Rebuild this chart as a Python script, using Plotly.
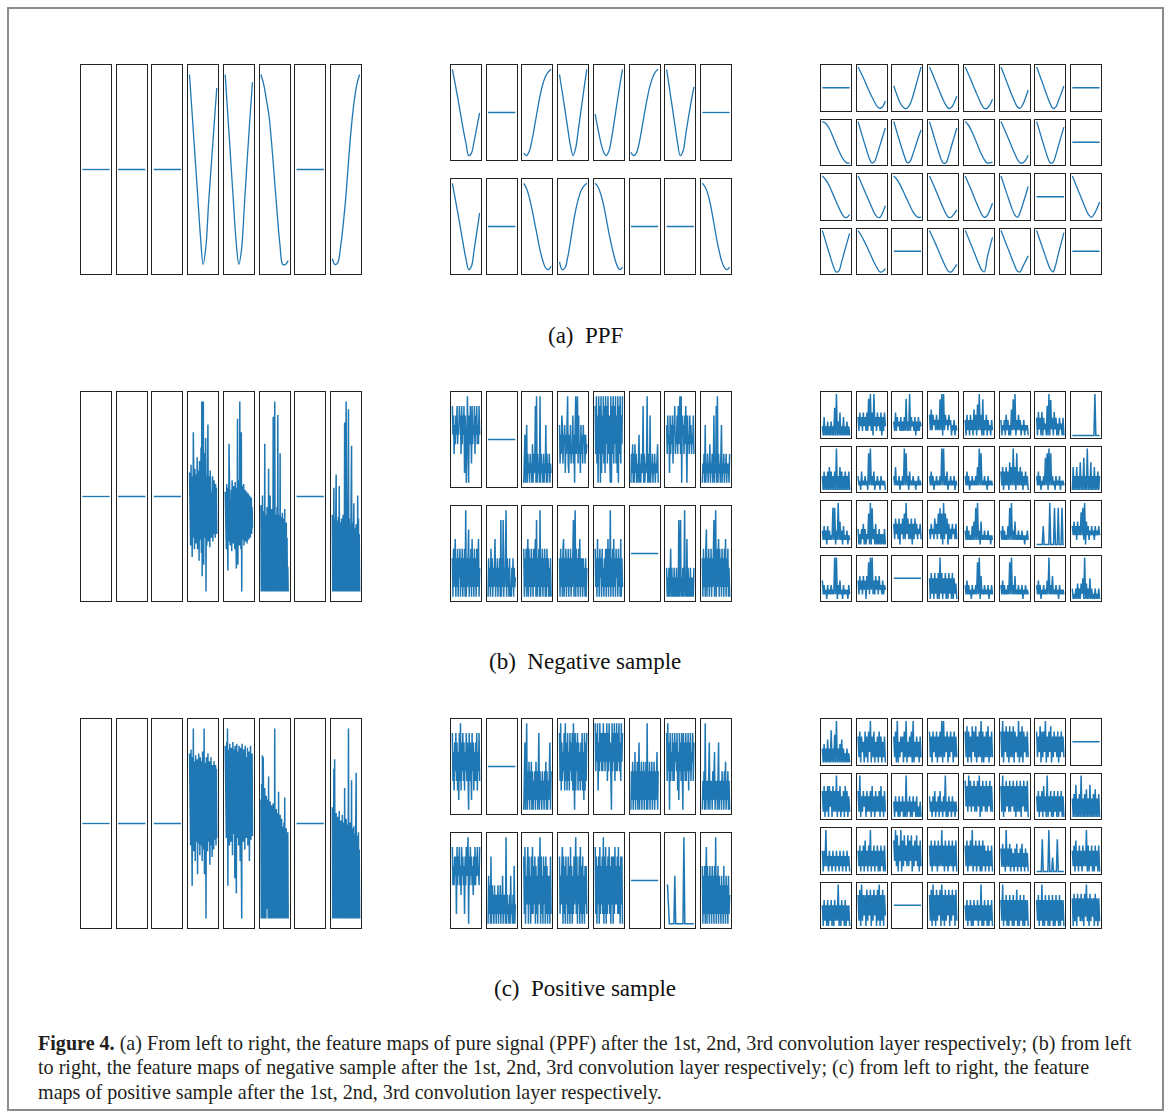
import plotly.graph_objects as go

# ---------------- data ----------------
FLAT = [50, 50]

# (a) PPF : smooth feature maps (11 samples each, 0..100 scale)
PPF_L1 = [FLAT, FLAT, FLAT,
          [100, 79, 58, 37, 16, 1, 10, 33, 53, 73, 93],
          [100, 78, 56, 34, 13, 1, 9, 31, 54, 76, 96],
          [100, 95, 87, 78, 63, 45, 27, 11, 1, 1, 3],
          FLAT,
          [4, 1, 2, 10, 22, 37, 56, 73, 86, 95, 100]]

PPF_L2 = [[100, 84, 67, 49, 31, 15, 1, 4, 18, 34, 50], FLAT,
          [3, 0, 5, 18, 35, 53, 70, 83, 92, 97, 100],
          [94, 74, 53, 32, 12, 0, 10, 32, 55, 78, 100],
          [48, 31, 16, 5, 0, 5, 20, 40, 61, 81, 100],
          [5, 1, 4, 15, 32, 50, 67, 81, 91, 97, 100],
          [100, 79, 58, 37, 16, 1, 6, 25, 45, 63, 80], FLAT,
          [100, 83, 66, 48, 30, 13, 1, 5, 24, 45, 66], FLAT,
          [100, 94, 84, 70, 54, 38, 22, 10, 2, 0, 4],
          [10, 1, 3, 15, 33, 53, 70, 83, 92, 97, 100],
          [100, 96, 88, 76, 60, 43, 28, 15, 5, 0, 3], FLAT, FLAT,
          [100, 96, 88, 75, 58, 40, 24, 11, 3, 0, 3]]

PPF_L3 = [FLAT,
          [100, 87, 73, 58, 43, 29, 16, 5, 0, 4, 18],
          [55, 36, 19, 7, 1, 2, 12, 30, 53, 77, 100],
          [100, 85, 69, 53, 37, 22, 9, 1, 3, 14, 30],
          [100, 86, 71, 55, 40, 25, 11, 2, 2, 10, 24],
          [100, 84, 67, 50, 33, 18, 5, 1, 10, 26, 45],
          [100, 83, 65, 47, 29, 13, 2, 5, 20, 37, 55],
          FLAT,
          [100, 97, 89, 77, 62, 46, 31, 17, 7, 1, 1],
          [100, 78, 56, 35, 15, 2, 5, 22, 43, 64, 85],
          [100, 78, 56, 35, 15, 1, 5, 22, 42, 62, 80],
          [100, 79, 57, 36, 16, 3, 3, 19, 41, 63, 85],
          [100, 93, 82, 68, 52, 36, 21, 9, 1, 1, 3],
          [100, 86, 71, 56, 40, 25, 11, 2, 2, 8, 20],
          [100, 79, 57, 36, 16, 2, 3, 20, 43, 65, 87],
          FLAT,
          [100, 93, 83, 70, 55, 40, 25, 12, 2, 1, 8],
          [100, 86, 71, 56, 41, 26, 12, 3, 2, 13, 30],
          [100, 93, 83, 70, 56, 42, 28, 15, 6, 1, 2],
          [100, 86, 71, 56, 40, 25, 11, 2, 3, 10, 20],
          [100, 85, 70, 54, 38, 23, 9, 1, 5, 18, 35],
          [100, 81, 61, 42, 23, 8, 1, 12, 32, 53, 75],
          FLAT,
          [100, 84, 68, 52, 36, 20, 7, 1, 9, 22, 38],
          [100, 79, 57, 36, 16, 2, 4, 24, 48, 71, 93],
          [100, 90, 78, 65, 51, 37, 23, 11, 2, 3, 10],
          FLAT,
          [100, 86, 72, 57, 42, 27, 13, 3, 2, 10, 20],
          [100, 85, 69, 53, 37, 21, 7, 2, 33, 60, 84],
          [100, 84, 67, 51, 34, 18, 4, 2, 14, 27, 40],
          [100, 81, 62, 43, 24, 8, 1, 18, 45, 70, 95],
          FLAT]

# (b) Negative sample : 1st layer on a 0..99 scale, deeper layers as digit levels 0..9
NEG_L1 = ["55", "55", "55",
          [62, 30, 57, 24, 66, 35, 52, 18, 60, 28, 83, 33, 58, 22, 64, 31, 55, 25, 61, 36,
           70, 22, 56, 29, 63, 16, 68, 27, 58, 33, 75, 20, 99, 8, 66, 30, 99, 14, 72, 28,
           62, 35, 80, 0, 60, 24, 57, 30, 87, 26, 60, 34, 55, 23, 63, 32, 57, 28, 52, 33,
           60, 26, 55, 35, 58, 30, 50, 28, 56, 33, 54, 30],
          [52, 28, 48, 22, 56, 30, 47, 11, 54, 26, 77, 30, 50, 24, 46, 29, 53, 21, 58, 30,
           49, 25, 55, 31, 51, 22, 57, 27, 50, 12, 54, 26, 90, 14, 58, 28, 52, 24, 99, 30,
           60, 22, 83, 0, 55, 27, 50, 30, 56, 24, 49, 31, 53, 26, 47, 32, 52, 25, 48, 30,
           51, 27, 46, 33, 50, 28, 45, 32, 49, 30, 44, 33],
          [45, 0, 38, 4, 50, 0, 36, 2, 42, 0, 77, 0, 40, 6, 35, 0, 44, 2, 38, 0,
           64, 0, 41, 3, 50, 0, 37, 0, 43, 5, 39, 0, 91, 0, 42, 2, 99, 0, 40, 0,
           38, 4, 44, 0, 92, 0, 40, 3, 36, 0, 72, 0, 39, 2, 35, 0, 41, 0, 34, 3,
           38, 0, 43, 0, 30, 2, 36, 0, 28, 0, 13, 0],
          "55",
          [40, 0, 35, 3, 54, 0, 38, 0, 33, 2, 61, 0, 37, 0, 34, 4, 39, 0, 55, 0,
           36, 2, 32, 0, 38, 0, 35, 3, 40, 0, 33, 0, 88, 0, 37, 2, 99, 0, 36, 0,
           34, 3, 95, 0, 38, 0, 35, 0, 31, 4, 76, 0, 36, 0, 30, 2, 46, 0, 33, 0,
           14, 3, 35, 0, 32, 0, 50, 2, 38, 0, 30, 0]]

NEG_L2 = ["857364758465867384758175089407485284658375846485", "55",
          "035026031203120403128090312090312030216030213021",
          "625376254615369215362437250693592734163526452534",
          "839270938091739281948293720908392849271908392749",
          "031403041302035020312803021390310702130213021340",
          "637451736472658354738479390756374830745374635473",
          "021306021302140213027021809031203602130213021203",
          "405146041504250415041509041570415061405140514603",
          "041305140314603140314080418031490413040103140312",
          "504150460514051405146080415090415041504051403040",
          "405140560415041504150414804905140516041404130403",
          "514061405240513041505160519041506140524051406041", "55",
          "302030250302030203020802802030290206030203020203",
          "405140570415041504158049051460514051405160415030"]

NEG_L3 = ["20402030203020609030502040203020",
          "41524152415182915092415241504152",
          "31514231413141813191423140314132",
          "52625342524282919253425341324132",
          "41524152416251729251814251423142",
          "41324152413162829142524132413231",
          "52635262534272928352635242534252",
          "000000000000000000000000900000",
          "30403040504030409030504030403040",
          "31204121312081913140213120312120",
          "31512130213191813041213120213121",
          "31413021312131919131402131213021",
          "31413021312131519181213120312121",
          "41504151406151915081415140314130",
          "31413021317180918131203121302121",
          "05030503060307030903060305030403",
          "31413041312181803191513041213021",
          "41314251413271918241513141313141",
          "52635261536272936252615263524352",
          "42534263527382719273615242534252",
          "31413121415181913051213121312021",
          "31413121418191315121312131202131",
          "000000040000009000080008000800",
          "42524152427281905241324231423242",
          "41312031213121919031412031212031",
          "41524152405281929141524152314132",
          "55",
          "51625162516192615261516251615241",
          "31413120312131819051213121302131",
          "31413121318191315121312130213121",
          "31413021312141913151213120312121",
          "31213141314251914131513121312131"]

# (c) Positive sample
POS_L1 = ["55", "55", "55",
          [86, 45, 80, 38, 88, 50, 78, 17, 84, 42, 99, 35, 82, 47, 76, 30, 85, 40, 80, 48,
           83, 23, 77, 39, 86, 44, 79, 33, 84, 46, 74, 38, 82, 30, 87, 42, 78, 36, 99, 23,
           81, 40, 76, 0, 84, 45, 78, 35, 86, 40, 75, 44, 82, 28, 79, 47, 84, 38, 73, 32,
           80, 45, 77, 36, 82, 41, 74, 46, 80, 38, 78, 42],
          [90, 50, 86, 42, 92, 55, 99, 17, 88, 45, 84, 38, 91, 52, 85, 40, 89, 47, 86, 33,
           92, 50, 83, 44, 88, 21, 90, 48, 85, 13, 91, 42, 87, 52, 83, 38, 90, 46, 86, 30,
           89, 50, 84, 0, 91, 44, 85, 40, 88, 53, 82, 36, 90, 47, 86, 42, 84, 50, 89, 38,
           83, 45, 87, 30, 85, 48, 90, 41, 84, 46, 86, 43],
          [62, 0, 70, 12, 85, 0, 84, 6, 60, 0, 68, 14, 57, 0, 64, 5, 58, 10, 62, 0,
           74, 3, 55, 0, 61, 12, 56, 0, 59, 4, 53, 0, 60, 8, 54, 0, 99, 0, 52, 10,
           57, 0, 50, 5, 55, 0, 66, 0, 49, 12, 54, 0, 47, 3, 52, 0, 48, 9, 46, 0,
           50, 2, 63, 0, 44, 7, 47, 0, 42, 3, 45, 0],
          "55",
          [58, 0, 52, 4, 78, 0, 83, 0, 50, 6, 55, 0, 47, 0, 53, 8, 49, 0, 56, 0,
           45, 3, 51, 0, 48, 0, 54, 5, 44, 0, 50, 0, 68, 0, 46, 7, 52, 0, 43, 0,
           49, 2, 99, 0, 45, 0, 50, 4, 42, 0, 72, 0, 47, 0, 41, 5, 48, 0, 44, 0,
           40, 3, 76, 0, 43, 0, 38, 6, 45, 0, 36, 0]]

POS_L2 = ["836274837261839274837264837208372184726373826483", "55",
          "047039041504150403140514048041304130415040315704",
          "839273648293728362847382930827482736273826182738",
          "948592749584849584859384957409485938494859473958",
          "041504160415047041504150415090415041504150415604",
          "839470836483738574826184738408473837482748365837",
          "031409031304703130413603130470313041304150314030",
          "846475718475846385746174857907485746374847585648",
          "051407041304130314031403150313090312030512030602",
          "718052680725071816270615072690715072607160515071",
          "715268071607250716081605172691705270816071506261",
          "817062708162719071806172816072707182627181607270", "55",
          "4420000005000000000900000000000",
          "605160580615061506150619051605140514061405140513"]

POS_L3 = ["30403050307030609030405030203020",
          "62716351726173916271526172615261",
          "62719152636172915262719152625162",
          "72617362716272919263716273617262",
          "72817261837281627291716272816272",
          "72917382718272817362917281736272",
          "72638172739162738162736271627362",
          "55",
          "62716271736172629162715261726152",
          "62915263516252617251625261725162",
          "41524151425141914251415241513141",
          "52415261425162415291415241524142",
          "83729382738272839172837282738272",
          "72917283728273827182728173827281",
          "52615261725191526151625161526151",
          "40507040509040506040704050604050",
          "51529241524152415241524152415241",
          "52615261725162915261526151625161",
          "73928163917283628273816273826172",
          "62716272617262926172617262716271",
          "62716272916271627161726152615261",
          "51615091516051405160415061405140",
          "000000700000090003000070000000",
          "52617251625162529161526151625161",
          "51625161526151625291516251615251",
          "72819273718273817283718291728173",
          "55",
          "72819271827381927182738172837182",
          "52615261516252615291516251615261",
          "62916271617261716281617261716261",
          "62716291617261716271617261716261",
          "60716072617160729160716260716061"]

ROW_LABELS = ["(a)\u00a0\u00a0PPF", "(b)\u00a0\u00a0Negative sample", "(c)\u00a0\u00a0Positive sample"]
CAPTION = [
    "<b>Figure 4.</b> (a) From left to right, the feature maps of pure signal (PPF) after the 1st, 2nd, 3rd convolution layer respectively; (b) from left",
    "to right, the feature maps of negative sample after the 1st, 2nd, 3rd convolution layer respectively; (c) from left to right, the feature",
    "maps of positive sample after the 1st, 2nd, 3rd convolution layer respectively.",
]

# ---------------- layout geometry (pixels) ----------------
W, H = 1169, 1119
BLUE = "#1f77b4"
ROW_TOPS = [65, 392, 719]
PANEL_X = [81, 451, 821]
PITCH, CELL_W, PANEL_H = 35.71, 30, 209
SUBROWS = {
    1: [(0, 209)],
    2: [(0, 95), (114, 209)],
    4: [(0, 45.5), (54.5, 100), (109, 154.5), (163.5, 209)],
}
LABEL_Y = [335, 661, 988]

fig = go.Figure()
layout = dict(width=W, height=H, margin=dict(l=0, r=0, t=0, b=0),
              paper_bgcolor="white", plot_bgcolor="white", showlegend=False)


def decode(s):
    if isinstance(s, str):
        return [int(c) for c in s]
    return list(s)


idx = 0
for r, sets in enumerate([(PPF_L1, PPF_L2, PPF_L3),
                          (NEG_L1, NEG_L2, NEG_L3),
                          (POS_L1, POS_L2, POS_L3)]):
    smooth = (r == 0)
    for p, data in enumerate(sets):
        nrows = len(data) // 8
        for k, series in enumerate(data):
            sr, sc = divmod(k, 8)
            y0p, y1p = SUBROWS[nrows][sr]
            top = ROW_TOPS[r] + y0p
            bot = ROW_TOPS[r] + y1p
            left = PANEL_X[p] + sc * PITCH
            right = left + CELL_W
            idx += 1
            sfx = "" if idx == 1 else str(idx)
            vals = decode(series)
            n = len(vals)
            xs = [i / (n - 1) for i in range(n)]
            lo, hi = min(vals), max(vals)
            flat = (hi == lo)
            if flat:
                yr = [lo - 1, hi + 1]
            else:
                pad = 0.05 * (hi - lo)
                yr = [lo - pad, hi + pad]
            fig.add_trace(go.Scatter(
                x=xs, y=vals, mode="lines",
                line=dict(color=BLUE, width=1.3 if (smooth or flat) else 1.5,
                          shape="spline" if (smooth and not flat) else "linear"),
                xaxis="x" + sfx, yaxis="y" + sfx, hoverinfo="skip"))
            ax = dict(showgrid=False, zeroline=False, showticklabels=False,
                      ticks="", showline=True, mirror=True,
                      linecolor="#222222", linewidth=1)
            layout["xaxis" + sfx] = dict(ax, domain=[left / W, right / W],
                                        range=[-0.05, 1.05], anchor="y" + sfx)
            layout["yaxis" + sfx] = dict(ax, domain=[1 - bot / H, 1 - top / H],
                                        range=yr, anchor="x" + sfx)

annotations = []
for t, y in zip(ROW_LABELS, LABEL_Y):
    annotations.append(dict(text=t, x=585 / W, y=1 - y / H, xref="paper", yref="paper",
                            xanchor="center", yanchor="middle", showarrow=False,
                            font=dict(family="Liberation Serif", size=23, color="#111111")))
for i, line in enumerate(CAPTION):
    annotations.append(dict(text=line, x=36 / W, y=1 - (1043 + i * 24.5) / H,
                            xref="paper", yref="paper", xanchor="left", yanchor="middle",
                            showarrow=False,
                            font=dict(family="Liberation Serif", size=20.1, color="#231f20")))
layout["annotations"] = annotations
layout["shapes"] = [dict(type="rect", xref="paper", yref="paper",
                         x0=8 / W, x1=1163 / W, y0=1 - 1110 / H, y1=1 - 8 / H,
                         line=dict(color="#8c8c8c", width=2))]

fig.update_layout(**layout)
fig.write_html("out.html")
